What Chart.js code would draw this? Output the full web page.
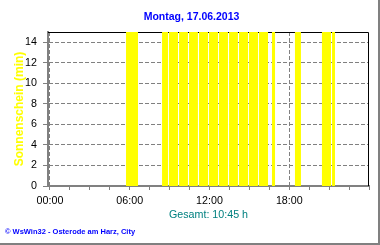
<!DOCTYPE html>
<html>
<head>
<meta charset="utf-8">
<title>Sonnenschein 17.06.2013</title>
<script src="https://cdn.jsdelivr.net/npm/chart.js@4.4.1/dist/chart.umd.min.js"></script>
<style>
  html, body { margin: 0; padding: 0; background: #fff; }
  #wrap {
    position: relative;
    width: 378px;
    height: 243px;
    border-right: 2px solid #808080;
    border-bottom: 2px solid #808080;
  }
</style>
</head>
<body>
<div id="wrap"><canvas id="sun"></canvas></div>
<script>
/* ── Sonnenschein-Tagesgrafik (WsWin-Stil) ── */

// Sonnenschein-Intervalle, Beginn/Ende in Stunden (dezimal)
const sunStart   = [5.72, 8.43, 8.95, 9.71, 10.46, 11.21, 11.96, 12.71, 13.47, 14.22, 14.97, 15.72, 16.70, 18.43, 20.46, 21.22];
const sunEnd     = [6.62, 8.88, 9.63, 10.38, 11.13, 11.89, 12.64, 13.39, 14.14, 14.90, 15.65, 16.40, 16.93, 18.88, 21.14, 21.44];
const sunMinutes = [15, 15, 15, 15, 15, 15, 15, 15, 15, 15, 15, 15, 15, 15, 15, 15];

// Achsenbeschriftung
const hourLabels = ['00:00', '06:00', '12:00', '18:00'];
const yLabels    = [0, 2, 4, 6, 8, 10, 12, 14];

const FONT = "'Liberation Sans', Arial, sans-serif";
const GRID = '#808080';
const NONE = 'rgba(0,0,0,0)';

Chart.defaults.font.family = FONT;
Chart.defaults.animation = false;

// Stufenpunkte fuer die gefuellte Flaeche
const points = [{ x: 0, y: 0 }];
sunStart.forEach((s, i) => {
  points.push({ x: s, y: sunMinutes[i] });
  points.push({ x: sunEnd[i], y: 0 });
});
points.push({ x: 24, y: 0 });

const isSixHour = v => Math.abs(v % 6) < 1e-6;

// Teilstriche alle 1,5 h von 0 bis 24 Uhr
function hourTicks(scale) {
  const ticks = [];
  for (let v = 0; v <= 24 + 1e-9; v += 1.5) ticks.push({ value: v });
  scale.ticks = ticks;
}

// schwarzer Rahmen oben/rechts, unter den Balken
const framePlugin = {
  id: 'frame',
  beforeDatasetsDraw(chart) {
    const { ctx, chartArea: a } = chart;
    ctx.save();
    ctx.strokeStyle = '#000';
    ctx.lineWidth = 1;
    ctx.beginPath();
    ctx.moveTo(a.left, a.top + 0.5);
    ctx.lineTo(a.right - 0.5, a.top + 0.5);
    ctx.lineTo(a.right - 0.5, a.bottom);
    ctx.stroke();
    ctx.restore();
  },
};

new Chart(document.getElementById('sun'), {
  type: 'line',
  data: {
    datasets: [{
      label: 'Sonnenschein',
      data: points,
      stepped: 'before',
      fill: 'origin',
      backgroundColor: '#ffff00',
      borderColor: NONE,
      borderWidth: 0,
      pointRadius: 0,
      tension: 0,
    }],
  },
  options: {
    responsive: true,
    maintainAspectRatio: false,
    layout: { padding: { left: 5, right: 0, top: 0, bottom: 0 } },
    events: [],
    scales: {
      x: {
        type: 'linear',
        min: -0.15,
        max: 24,
        afterBuildTicks: hourTicks,
        ticks: {
          autoSkip: false,
          maxRotation: 0,
          padding: 5,
          color: '#000',
          font: { size: 10.7 },
          callback: v => (isSixHour(v) && v < 24) ? hourLabels[Math.round(v / 6)] : '',
        },
        grid: {
          color: c => (c.tick && isSixHour(c.tick.value) && c.tick.value < 24) ? GRID : NONE,
          lineWidth: 1,
          tickLength: 4,
          tickColor: GRID,
          tickBorderDash: [],
        },
        border: { color: GRID, width: 2, dash: [4, 2] },
        title: {
          display: true,
          text: 'Gesamt: 10:45 h',
          color: '#008080',
          font: { size: 10.7 },
          padding: { top: 0, bottom: 1 },
        },
        afterFit: s => { s.height = 36; },
      },
      y: {
        min: 0,
        max: 15,
        afterBuildTicks: s => { s.ticks = yLabels.map(v => ({ value: v })); },
        ticks: {
          padding: 6,
          color: '#000',
          font: { size: 10.7 },
          callback: v => v,
        },
        grid: {
          color: c => (c.tick && c.tick.value > 0) ? GRID : NONE,
          lineWidth: 1,
          tickLength: 5,
          tickColor: GRID,
          tickBorderDash: [],
        },
        border: { color: GRID, width: 2, dash: [4, 2] },
        title: {
          display: true,
          text: 'Sonnenschein (min)',
          color: '#ffff00',
          font: { size: 12, weight: 'bold' },
          padding: { top: 7, bottom: 0 },
        },
        afterFit: s => { s.width = 43; },
      },
      yRight: {
        position: 'right',
        min: 0,
        max: 15,
        ticks: { display: false },
        grid: { drawOnChartArea: false, drawTicks: false },
        border: { display: false },
        afterFit: s => { s.width = 9; },
      },
    },
    plugins: {
      legend: { display: false },
      tooltip: { enabled: false },
      title: {
        display: true,
        text: 'Montag, 17.06.2013',
        color: '#0000ff',
        font: { size: 10.5, weight: 'bold' },
        padding: { top: 11, bottom: 8.4 },
      },
      subtitle: {
        display: true,
        position: 'bottom',
        align: 'start',
        text: '© WsWin32 - Osterode am Harz, City',
        color: '#0000ff',
        font: { size: 7.5, weight: 'bold' },
        padding: { top: 5.5, bottom: 6.5 },
      },
    },
  },
  plugins: [framePlugin],
});
</script>
</body>
</html>
